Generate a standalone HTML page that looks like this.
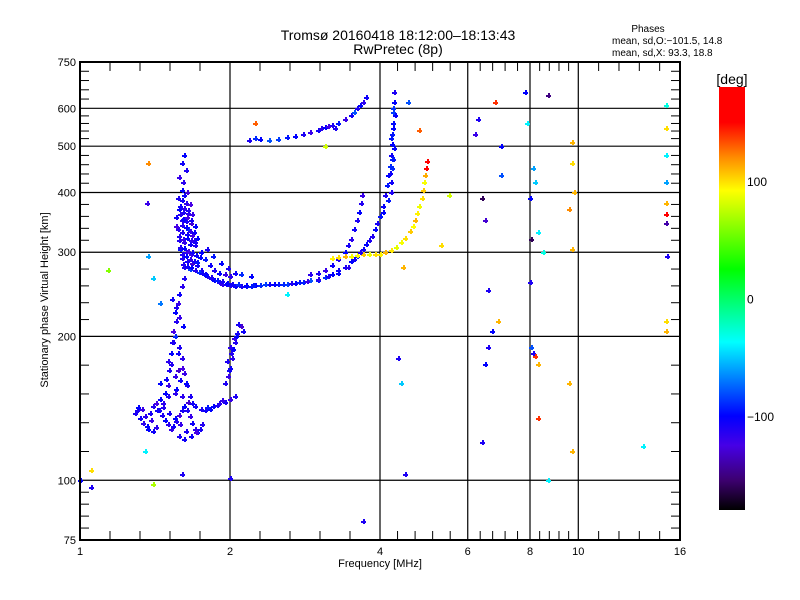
<!DOCTYPE html>
<html><head><meta charset="utf-8"><style>
html,body{margin:0;padding:0;background:#fff;}
svg{display:block;font-family:"Liberation Sans",sans-serif;}
</style></head><body>
<svg id="chart" width="800" height="600" viewBox="0 0 800 600">
<rect x="0" y="0" width="800" height="600" fill="#fff"/>
<text x="398" y="40" text-anchor="middle" font-size="14">Tromsø 20160418 18:12:00–18:13:43</text>
<text x="398" y="54" text-anchor="middle" font-size="14">RwPretec (8p)</text>
<text x="648" y="32" text-anchor="middle" font-size="10">Phases</text>
<text x="612" y="44" font-size="10">mean, sd,O:−101.5, 14.8</text>
<text x="612" y="56" font-size="10">mean, sd,X:  93.3, 18.8</text>
<text transform="translate(48,300) rotate(-90)" text-anchor="middle" font-size="11">Stationary phase Virtual Height [km]</text>
<text x="380" y="567" text-anchor="middle" font-size="11">Frequency [MHz]</text>
<g id="grid"></g>
<g id="marks" shape-rendering="crispEdges"></g>
<g id="axes"></g>
<g id="cbar"></g>
</svg>
<script>
const freq=[
1.75,1.78,1.8,1.83,1.86,1.9,1.93,1.96,2.0,2.05,2.1,2.15,2.2,2.25,2.3,2.4,2.5,2.6,2.7,2.8,2.9,3.0,3.1,3.2,3.3,3.4,3.5,3.6,3.7,3.8,3.9,3.95,4.0,4.05,4.1,4.13,4.16,4.18,4.2,4.22,4.23,4.24,4.25,4.26,4.27,4.22,4.19,4.2,4.25,4.24,4.28,
2.9,3.0,3.1,3.2,3.3,3.4,3.45,3.5,3.55,3.6,3.63,3.66,3.68,
3.2,3.3,3.4,3.5,3.6,3.7,3.8,3.9,4.0,4.1,4.2,4.3,4.4,4.5,4.6,4.65,4.7,4.75,4.8,4.85,4.88,4.9,4.92,4.95,4.97,
2.18,2.25,2.3,2.4,2.5,2.6,2.7,2.8,2.9,3.0,3.05,3.1,3.2,3.3,3.4,3.5,3.55,3.6,3.65,3.7,3.75,3.15,3.25,
1.62,1.6,1.63,1.58,1.61,1.6,1.64,1.57,1.6,1.63,1.66,1.58,1.61,1.65,1.68,1.56,1.6,1.63,1.67,1.7,1.57,1.6,1.64,1.68,1.72,1.58,1.62,1.66,1.7,1.59,1.63,1.67,1.71,1.74,1.6,1.64,1.68,1.72,1.62,1.66,1.7,1.56,1.59,1.62,1.65,1.69,1.75,1.78,1.82,1.86,1.9,1.95,2.0,1.8,1.85,1.92,1.98,2.05,2.1,2.2,
1.59,1.62,1.65,1.61,1.64,1.67,1.6,1.63,1.66,1.69,1.58,1.61,1.64,1.67,1.7,1.59,1.62,1.65,1.68,1.6,1.63,1.66,1.69,1.72,1.61,1.64,1.67,1.7,1.73,1.76,1.79,1.83,1.88,1.93,1.97,2.02,2.08,2.15,2.22,2.35,2.45,2.55,2.65,2.75,2.85,3.0,3.15,3.3,3.45,3.55,3.65,3.75,3.85,4.05,4.15,4.2,4.23,4.26,4.21,4.24,
1.62,1.6,1.58,1.57,1.55,1.56,1.54,1.53,1.52,1.5,1.51,1.49,1.5,1.48,1.55,1.58,1.6,1.57,1.59,1.56,1.6,1.62,1.64,1.66,1.68,1.45,1.47,1.53,1.56,1.58,1.61,1.52,1.55,1.57,1.54,1.6,1.63,1.5,
1.3,1.32,1.34,1.36,1.33,1.38,1.4,1.42,1.44,1.46,1.48,1.5,1.52,1.54,1.56,1.58,1.6,1.62,1.64,1.66,1.68,1.7,1.72,1.74,1.76,1.65,1.7,1.75,1.8,1.85,1.9,1.95,2.0,2.05,1.37,1.4,1.42,1.58,1.62,1.29,1.31,1.35,1.39,1.43,1.47,1.51,1.55,1.59,1.63,1.67,1.71,1.45,1.5,1.55,1.78,1.82,1.88,1.93,
1.95,1.98,2.0,2.02,2.03,2.05,2.07,2.1,2.12,2.0,1.97,1.99,2.01,2.04,2.06,2.08,
1.0,1.05,1.05,1.14,1.37,1.36,1.37,1.4,1.45,1.35,1.4,1.6,2.0,2.25,2.6,3.1,3.7,4.35,4.4,4.45,4.5,4.55,4.8,4.95,5.3,5.5,6.3,6.4,6.5,6.6,6.7,6.6,6.4,6.8,6.9,6.5,7.0,7.8,7.9,8.1,8.0,8.05,8.0,8.2,8.3,8.1,8.2,8.05,8.3,8.5,8.7,9.7,9.7,9.8,9.6,9.7,9.6,9.7,8.3,8.7,13.5,15.0,15.0,15.0,15.0,15.0,15.0,15.0,15.1,15.0,15.0,6.2,7.0];
const height=[
275,270,268,265,262,260,258,257,256,255,255,255,255,256,256,257,257,258,259,260,262,263,266,270,275,280,287,295,305,318,335,345,358,375,395,415,435,455,480,505,530,560,590,620,650,470,440,520,545,600,580,
270,272,276,282,290,300,310,320,335,350,365,380,395,
292,293,294,295,296,297,297,298,298,300,303,308,315,322,332,340,350,362,375,390,405,420,435,450,465,
515,520,518,516,518,522,525,530,535,540,545,548,555,560,570,580,590,600,610,620,635,550,545,
480,460,445,430,420,405,400,390,385,380,378,370,365,362,360,355,350,348,345,340,335,330,328,326,322,318,315,312,310,305,300,298,296,293,292,288,285,282,280,277,275,340,360,395,335,318,300,290,282,276,272,270,268,305,295,285,278,272,270,268,
375,372,368,352,356,350,342,338,333,330,325,320,322,318,315,308,306,302,300,297,294,290,288,286,284,281,279,276,273,271,269,266,263,261,259,258,257,256,256,257,258,258,259,260,261,264,268,272,280,290,300,312,325,365,385,420,450,495,400,470,
265,255,245,235,225,215,205,195,185,178,170,163,158,152,200,190,180,170,162,155,150,168,158,150,145,160,145,240,230,220,210,175,165,185,195,172,160,150,
140,135,132,130,141,138,143,145,140,137,134,131,128,130,133,137,140,143,140,136,132,128,126,128,131,146,143,141,142,143,145,146,148,150,128,127,129,124,122,138,142,136,134,140,142,138,135,131,127,124,126,148,150,152,140,141,144,147,
160,165,172,180,188,195,203,210,205,190,178,170,185,198,200,212,
100,105,97,275,460,380,295,265,235,115,98,103,101,560,245,500,82,180,160,280,103,620,540,450,310,395,570,390,350,250,205,190,120,620,215,175,500,650,560,450,390,320,260,420,330,185,182,190,175,300,640,510,460,400,370,305,160,115,135,100,118,610,545,480,420,380,360,345,295,215,205,530,435];
const phase=[
-110,-105,-115,-108,-100,-112,-118,-105,-110,-102,-108,-98,-95,-100,-90,-105,-95,-85,-100,-92,-80,-95,-88,-100,-105,-110,-100,-95,-105,-110,-100,-108,-96,-102,-110,-95,-100,-90,-105,-100,-95,-98,-85,-100,-110,-92,-105,-95,-100,-88,-102,
-115,-110,-120,-105,-112,-100,-108,-115,-105,-110,-100,-112,-120,
95,100,110,90,92,105,88,100,95,110,98,85,90,100,105,92,110,95,88,100,105,90,112,140,150,
-110,-90,-100,-80,-85,-95,-100,-110,-120,-105,-115,-100,-110,-95,-120,-105,-80,-110,-100,-115,-105,-125,-110,
-100,-105,-110,-120,-115,-100,-130,-110,-105,-115,-125,-100,-110,-115,-120,-105,-112,-108,-130,-100,-115,-110,-105,-125,-100,-112,-118,-105,-110,-95,-115,-120,-105,-100,-112,-108,-130,-105,-110,-85,-100,-125,-115,-105,-90,-110,-100,-95,-105,-110,-100,-120,-115,-108,-95,-100,-110,-105,-90,-100,
-105,-115,-110,-100,-125,-108,-112,-100,-118,-105,-110,-120,-100,-115,-108,-112,-100,-125,-105,-110,-100,-115,-108,-95,-110,-105,-100,-112,-90,-105,-100,-110,-95,-108,-100,-105,-90,-100,-95,-85,-100,-90,-110,-95,-120,-115,-110,-100,-115,-105,-110,-100,-112,-100,-95,-105,-90,-100,-110,-95,
-110,-115,-105,-120,-100,-112,-125,-108,-100,-115,-110,-105,-120,-100,-90,-110,-115,-130,-105,-100,-115,-120,-108,-110,-105,-100,-115,-105,-110,-120,-100,-112,-118,-105,-110,-125,-100,-108,
-110,-105,-115,-100,-120,-108,-112,-125,-105,-110,-100,-115,-118,-105,-112,-125,-108,-100,-110,-120,-105,-115,-100,-108,-112,-130,-105,-110,-95,-100,-115,-108,-120,-110,-100,-105,-115,-110,-105,-110,-100,-115,-120,-105,-112,-108,-100,-118,-110,-105,-125,-100,-110,-115,-105,-100,-110,-118,
-110,-120,-105,-115,-100,-112,-108,-130,-105,-115,-110,-105,-112,-120,-100,-108,
-100,100,-110,60,120,-120,-60,-50,-70,-40,70,-110,-110,130,-40,80,-110,-110,-50,110,-110,-80,130,150,100,80,-110,-160,-130,-110,-100,-110,-110,140,110,-100,-100,-100,-40,-60,-100,-160,-110,-50,-40,-110,140,-80,110,-30,-150,110,100,110,120,110,110,110,140,-40,-40,-30,100,-40,-60,110,170,-140,-110,100,110,-120,-80];

const NS='http://www.w3.org/2000/svg';
const X0=80,X1=680,Y0=540,Y1=62;
function xs(f){return X0+150*Math.log2(f);}
function ys(h){return Y0-(Y0-Y1)*Math.log10(h/75);}
const stops=[[-180,0,0,0],[-155,60,0,110],[-125,70,0,230],[-100,0,0,255],[-70,0,120,255],[-37,0,255,255],[25,0,255,0],[92,255,255,0],[120,255,140,0],[150,255,0,0],[180,255,0,0]];
function col(v){
  v=Math.max(-180,Math.min(180,v));
  for(let i=0;i<stops.length-1;i++){const a=stops[i],b=stops[i+1];
    if(v<=b[0]){const t=(v-a[0])/(b[0]-a[0]);
      return 'rgb('+[1,2,3].map(k=>Math.round(a[k]+t*(b[k]-a[k]))).join(',')+')';}}
  return 'rgb(255,0,0)';
}
function mk(tag,attrs,parent){const e=document.createElementNS(NS,tag);for(const k in attrs)e.setAttribute(k,attrs[k]);parent.appendChild(e);return e;}
const grid=document.getElementById('grid'),marks=document.getElementById('marks'),axes=document.getElementById('axes'),cbar=document.getElementById('cbar');

const xMajor=[1,2,4,6,8,10,16];
const yMajor=[75,100,200,300,400,500,600,750];
xMajor.slice(1,-1).forEach(f=>{
  const l=mk('line',{x1:xs(f),x2:xs(f),y1:Y1,y2:Y0,stroke:'#000','stroke-width':1.2},grid);
  
  
});
yMajor.slice(1,-1).forEach(h=>{
  const l=mk('line',{x1:X0,x2:X1,y1:ys(h),y2:ys(h),stroke:'#000','stroke-width':1.2},grid);
  
  
});
for(let i=0;i<freq.length;i++){
  const x=Math.round(xs(freq[i])),y=Math.round(ys(height[i])),c=col(phase[i]);
  const g=mk('path',{d:`M${x-2} ${y}h5v2h-5zM${x} ${y-2}h2v5h-2z`,fill:c},marks);
  
  
}
const fr=mk('rect',{x:X0,y:Y1,width:X1-X0,height:Y0-Y1,fill:'none',stroke:'#000','stroke-width':2},axes);


for(let i=0;i<xMajor.length-1;i++){
  const a=xs(xMajor[i]),b=xs(xMajor[i+1]);
  for(let k=1;k<5;k++){const x=a+(b-a)*k/5;
    mk('line',{x1:x,x2:x,y1:Y0,y2:Y0-9,stroke:'#000','stroke-width':1},axes);
    mk('line',{x1:x,x2:x,y1:Y1,y2:Y1+9,stroke:'#000','stroke-width':1},axes);}
}
for(let i=0;i<yMajor.length-1;i++){
  const a=ys(yMajor[i]),b=ys(yMajor[i+1]);
  for(let k=1;k<5;k++){const y=a+(b-a)*k/5;
    mk('line',{x1:X0,x2:X0+9,y1:y,y2:y,stroke:'#000','stroke-width':1},axes);
    mk('line',{x1:X1,x2:X1-9,y1:y,y2:y,stroke:'#000','stroke-width':1},axes);}
}
xMajor.forEach(f=>{
  const t=mk('text',{x:xs(f),y:555,'text-anchor':'middle','font-size':11},axes);t.textContent=f;
  
  
});
yMajor.forEach(h=>{
  const t=mk('text',{x:X0-4,y:ys(h)+4,'text-anchor':'end','font-size':11},axes);t.textContent=h;
  
  
});
const CB0=510,CB1=87,CX=719,CW=26;
const cbTicks=[100,0,-100];
function cy(v){return CB0-(v+180)/360*(CB0-CB1);}
const defs=mk('defs',{},cbar);
const lg=mk('linearGradient',{id:'cg',x1:0,y1:1,x2:0,y2:0},defs);
stops.forEach(s=>mk('stop',{offset:(s[0]+180)/360,'stop-color':`rgb(${s[1]},${s[2]},${s[3]})`},lg));
const cr=mk('rect',{x:CX,y:CB1,width:CW,height:CB0-CB1,fill:'url(#cg)'},cbar);


const ct=mk('text',{x:CX+CW/2,y:CB1-3,'text-anchor':'middle','font-size':14},cbar);ct.textContent='[deg]';


cbTicks.forEach(v=>{
  const t=mk('text',{x:CX+CW+2,y:cy(v)+5,'font-size':12},cbar);t.textContent=v<0?'−'+(-v):v;
  
  
});
</script>
</body></html>
